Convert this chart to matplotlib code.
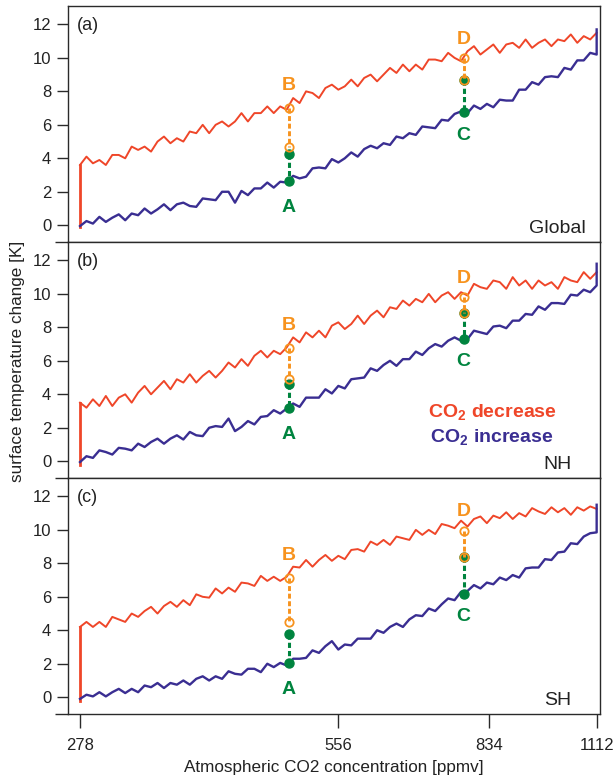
import numpy as np
import matplotlib.pyplot as plt
from matplotlib.ticker import NullLocator

plt.rcParams['font.family'] = ['Liberation Sans', 'DejaVu Sans']
plt.rcParams['mathtext.fontset'] = 'custom'
plt.rcParams['mathtext.rm'] = 'Liberation Sans'
plt.rcParams['mathtext.bf'] = 'Liberation Sans:bold'

# ---------------------------------------------------------
# Data
# CO2 ramp 278 -> 1112 ppmv (1 %/yr), one sample every 1.75 yr
# ---------------------------------------------------------
co2 = np.geomspace(278, 1112, 81)

panel_tags = ['(a)', '(b)', '(c)']
regions = ['Global', 'NH', 'SH']

# CO2 decrease branch (red)
dec_glob = [3.6, 4.1, 3.7, 3.9, 3.6, 4.2, 4.2, 4.0, 4.7, 4.5,
            4.7, 4.4, 5.0, 5.3, 4.9, 5.2, 5.0, 5.6, 5.5, 6.0,
            5.5, 6.0, 6.2, 5.9, 6.2, 6.7, 6.2, 6.7, 6.7, 7.1,
            6.7, 7.1, 6.9, 7.6, 7.3, 8.0, 7.9, 7.6, 8.2, 8.4,
            8.1, 8.3, 8.7, 8.3, 8.8, 9.0, 8.6, 9.0, 9.4, 9.1,
            9.6, 9.2, 9.6, 9.3, 9.9, 9.9, 9.8, 10.3, 10.0, 9.8,
            10.4, 10.7, 10.2, 10.5, 10.8, 10.3, 10.8, 10.9, 10.6, 11.1,
            10.6, 10.9, 11.1, 10.7, 11.1, 11.0, 11.4, 10.9, 11.3, 11.1,
            11.5]
dec_nh = [3.5, 3.2, 3.7, 3.3, 3.9, 3.3, 3.8, 4.0, 3.5, 4.1,
          4.5, 4.0, 4.4, 4.8, 4.3, 4.9, 4.7, 5.2, 4.7, 5.1,
          5.4, 5.0, 5.4, 5.9, 5.6, 6.1, 5.7, 6.3, 6.6, 6.2,
          6.6, 6.4, 6.8, 7.4, 7.1, 7.7, 7.4, 7.8, 7.4, 8.1,
          8.3, 7.9, 8.2, 8.7, 8.2, 8.7, 9.0, 8.6, 9.2, 9.1,
          9.6, 9.3, 9.7, 9.5, 10.0, 9.5, 9.9, 10.1, 9.7, 10.1,
          9.9, 10.6, 10.4, 10.3, 10.8, 10.7, 10.3, 11.0, 10.5, 10.8,
          10.3, 10.8, 10.5, 10.7, 10.3, 11.0, 10.8, 10.7, 11.3, 10.9,
          11.3]
dec_sh = [4.2, 4.5, 4.2, 4.5, 4.2, 4.8, 4.65, 4.5, 5.0, 4.8,
          5.15, 5.4, 5.0, 5.45, 5.7, 5.4, 5.8, 5.5, 6.15, 6.0,
          5.95, 6.5, 6.2, 6.55, 6.3, 6.85, 6.8, 6.65, 7.25, 6.95,
          7.2, 6.95, 7.2, 7.8, 7.75, 8.2, 7.8, 8.2, 8.5, 8.15,
          8.45, 8.25, 8.8, 8.85, 8.7, 9.3, 9.1, 9.4, 9.1, 9.6,
          9.5, 9.4, 10.0, 9.7, 10.0, 9.75, 10.35, 10.25, 10.1, 10.55,
          10.2, 10.65, 10.8, 10.4, 10.85, 10.7, 11.05, 10.65, 11.0, 10.8,
          11.3, 11.1, 10.95, 11.35, 11.05, 11.3, 10.9, 11.35, 11.15, 11.4,
          11.25]

# CO2 increase branch (blue)
inc_glob = [-0.05, 0.25, 0.1, 0.5, 0.2, 0.45, 0.65, 0.3, 0.7, 0.6,
            1.0, 0.7, 0.95, 1.25, 0.9, 1.25, 1.35, 1.15, 1.1, 1.6,
            1.55, 1.5, 2.0, 2.0, 1.35, 2.05, 1.8, 2.2, 2.2, 2.55,
            2.25, 2.6, 2.55, 2.95, 2.8, 2.9, 3.4, 3.45, 3.4, 3.95,
            3.75, 4.0, 4.35, 4.1, 4.55, 4.75, 4.6, 4.9, 4.8, 5.3,
            5.2, 5.5, 5.4, 5.9, 5.85, 5.8, 6.3, 6.25, 6.65, 6.8,
            6.7, 7.15, 6.95, 7.25, 7.05, 7.5, 7.45, 7.45, 8.1, 8.1,
            8.55, 8.4, 8.85, 8.9, 8.85, 9.4, 9.3, 9.85, 9.85, 10.3,
            10.2]
inc_nh = [-0.05, 0.3, 0.2, 0.65, 0.55, 0.4, 0.8, 0.75, 0.65, 1.05,
          0.85, 1.15, 1.35, 1.05, 1.35, 1.55, 1.3, 1.75, 1.55, 1.5,
          2.0, 2.1, 2.05, 2.55, 1.8, 2.05, 2.4, 2.2, 2.65, 2.7,
          3.05, 2.85, 3.15, 3.45, 3.25, 3.8, 3.8, 3.8, 4.3, 4.05,
          4.5, 4.35, 4.9, 4.95, 5.0, 5.55, 5.4, 5.75, 6.0, 5.7,
          6.1, 6.1, 6.55, 6.35, 6.75, 7.0, 6.85, 7.2, 7.4, 7.2,
          7.3, 7.8, 7.7, 7.6, 8.05, 8.1, 7.95, 8.4, 8.4, 8.8,
          8.75, 9.25, 9.05, 9.45, 9.45, 9.4, 9.95, 9.9, 10.25, 10.1,
          10.5]
inc_sh = [-0.1, 0.15, 0.05, 0.3, 0.05, 0.3, 0.5, 0.25, 0.5, 0.3,
          0.7, 0.6, 0.85, 0.55, 0.85, 0.75, 1.0, 0.75, 1.1, 1.25,
          1.0, 1.25, 1.1, 1.55, 1.4, 1.35, 1.7, 1.7, 1.5, 2.0,
          1.8, 2.05, 1.9, 2.3, 2.3, 2.35, 2.8, 2.65, 3.05, 3.35,
          2.85, 3.15, 3.1, 3.5, 3.5, 3.5, 4.0, 3.85, 4.2, 4.4,
          4.2, 4.65, 4.9, 4.85, 5.3, 5.15, 5.55, 5.9, 5.8, 6.3,
          6.35, 6.7, 6.5, 6.85, 6.75, 7.15, 7.0, 7.3, 7.15, 7.7,
          7.75, 7.75, 8.25, 8.2, 8.65, 8.7, 9.2, 9.15, 9.6, 9.8,
          9.85]

dec_series = [dec_glob, dec_nh, dec_sh]
inc_series = [inc_glob, inc_nh, inc_sh]

dec_floor = [-0.1, -0.2, -0.2]   # bottom of the red drop at 278 ppmv
inc_last = [11.7, 11.8, 11.5]    # last spike of the blue curve at 1112 ppmv

# points A/B and C/D
co2_ab = 487
co2_cd = 778
b_top = [7.0, 6.77, 7.15]
b_bot = [4.7, 4.9, 4.48]
a_top = [4.25, 4.64, 3.8]
a_bot = [2.62, 3.16, 2.02]
d_top = [10.0, 9.8, 9.96]
d_bot = [8.67, 8.88, 8.38]
c_top = [8.67, 8.88, 8.38]
c_bot = [6.75, 7.3, 6.17]

xticks = [278, 556, 834, 1112]

RED = '#EF4629'
BLUE = '#3A2E92'
ORANGE = '#F7931E'
GREEN = '#00843F'
AXC = '#2a2a2a'
TXT = '#222222'

# ---------------------------------------------------------
# Figure
# ---------------------------------------------------------
fig, axes = plt.subplots(3, 1, figsize=(6.15, 7.78), dpi=100, sharex=True)
fig.subplots_adjust(left=0.1106, right=0.9756, top=0.9923, bottom=0.0823, hspace=0)

green_kw = dict(color=GREEN, lw=2.2, ls=(0, (1.7, 1.0)), marker='o', ms=6.5,
                mfc=GREEN, mec=GREEN, zorder=4)
orange_kw = dict(color=ORANGE, lw=2.1, ls=(0, (1.7, 0.9)), marker='o', ms=6,
                 mfc='none', mec=ORANGE, mew=1.3, zorder=5)

for k, ax in enumerate(axes):
    dec = dec_series[k]
    inc = inc_series[k]

    # red branch, with the drop at constant 278 ppmv
    ax.plot([co2[0], co2[0]], [dec_floor[k], dec[0]], color=RED, lw=2.0, zorder=2)
    ax.plot(co2, dec, color=RED, lw=1.4, zorder=2)
    # blue branch, ends with a spike at 1112 ppmv
    ax.plot(np.append(co2, co2[-1]), inc + [inc_last[k]], color=BLUE, lw=1.7, zorder=3)

    # A (green) / B (orange) and C (green) / D (orange)
    ax.plot([co2_ab, co2_ab], [a_top[k], a_bot[k]], **green_kw)
    ax.plot([co2_ab, co2_ab], [b_top[k], b_bot[k]], **orange_kw)
    ax.plot([co2_cd, co2_cd], [c_top[k], c_bot[k]], **green_kw)
    ax.plot([co2_cd, co2_cd], [d_top[k], d_bot[k]], **orange_kw)

    lab = dict(ha='center', va='center', fontsize=14, fontweight='bold',
               textcoords='offset points', zorder=6)
    ax.annotate('B', (co2_ab, b_top[k]), xytext=(0, 16), color=ORANGE, **lab)
    ax.annotate('A', (co2_ab, a_bot[k]), xytext=(0, -19), color=GREEN, **lab)
    ax.annotate('D', (co2_cd, d_top[k]), xytext=(0, 13.5), color=ORANGE, **lab)
    ax.annotate('C', (co2_cd, c_bot[k]), xytext=(0, -16.5), color=GREEN, **lab)

    ax.text(0.017, 0.955, panel_tags[k], transform=ax.transAxes, fontsize=13,
            ha='left', va='top', color=TXT)
    ax.text(0.92, 0.038, regions[k], transform=ax.transAxes, fontsize=14,
            ha='center', va='baseline', color=TXT)

    ax.set_xscale('log')
    ax.set_xlim(269.2, 1122)
    ax.set_ylim(-1, 13.1)
    ax.set_yticks(range(0, 13, 2))
    ax.xaxis.set_minor_locator(NullLocator())
    ax.tick_params(axis='y', direction='out', length=8, width=1, pad=4,
                   labelsize=12, color=AXC, labelcolor=TXT)
    ax.tick_params(axis='x', which='both', bottom=False, top=False, labelbottom=False)
    for sp in ax.spines.values():
        sp.set_color(AXC)
        sp.set_linewidth(1.0)
    # bottom line reaches a little past the left axis
    ax.plot([-0.025, 0], [0, 0], transform=ax.transAxes, color=AXC, lw=1.0,
            clip_on=False, solid_capstyle='butt')

ax = axes[2]
ax.set_xticks(xticks)
ax.set_xticklabels([str(v) for v in xticks])
ax.tick_params(axis='x', which='major', bottom=True, labelbottom=True, direction='out',
               length=10, width=1, pad=7, labelsize=12, color=AXC, labelcolor=TXT)
ax.set_xlabel('Atmospheric CO2 concentration [ppmv]', fontsize=12.3, color=TXT, labelpad=5)

axes[1].text(0.797, 0.255, r'CO$_\mathbf{2}$ decrease', transform=axes[1].transAxes,
             fontsize=14, fontweight='bold', color=RED, ha='center', va='baseline')
axes[1].text(0.797, 0.149, r'CO$_\mathbf{2}$ increase', transform=axes[1].transAxes,
             fontsize=14, fontweight='bold', color=BLUE, ha='center', va='baseline')

fig.text(0.0285, 0.536, 'surface temperature change [K]', rotation=90,
         ha='center', va='center', fontsize=12.3, color=TXT)

plt.savefig('out.png', dpi=100)
